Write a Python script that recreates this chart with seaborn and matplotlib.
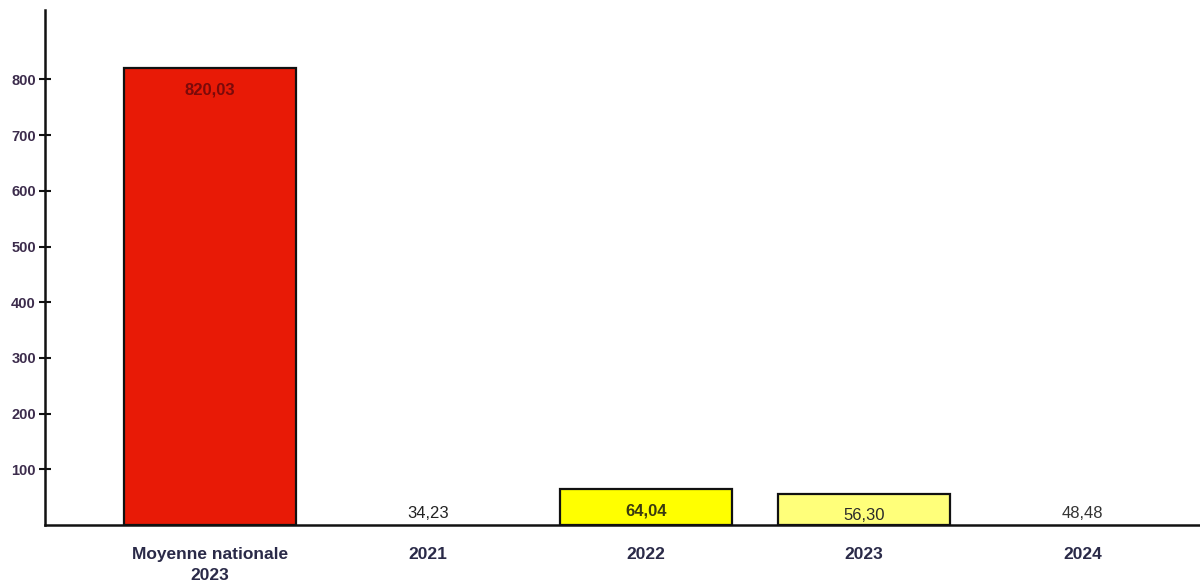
import matplotlib
matplotlib.use("Agg")
import matplotlib.pyplot as plt
import seaborn as sns
import pandas as pd

categories = ["Moyenne nationale\n2023", "2021", "2022", "2023", "2024"]
values = [820.03, 34.23, 64.04, 56.30, 48.48]
value_labels = ["820,03", "34,23", "64,04", "56,30", "48,48"]
fill_colors = ["#E81A06", "#FFFFFF", "#FFFF00", "#FFFF7A", "#FFFFFF"]
edge_visible = [True, False, True, True, False]
label_colors = ["#7A0A0A", "#222222", "#3A3A10", "#2A2A2A", "#333333"]
label_offsets = [-10, 0, -10, -10, -6]
yticks = [100, 200, 300, 400, 500, 600, 700, 800]

sns.set_style("white")
plt.rcParams['font.family'] = ['Liberation Sans', 'DejaVu Sans']

df = pd.DataFrame({"cat": categories, "val": values})

fig = plt.figure(figsize=(12, 5.82), dpi=100)
ax = fig.add_axes([0.0375, 0.098, 0.9625, 0.885])

sns.barplot(data=df, x="cat", y="val", hue="cat", palette=dict(zip(categories, fill_colors)),
            legend=False, width=0.79, ax=ax, saturation=1)

for patch, ev in zip(ax.patches, edge_visible):
    if ev:
        patch.set_edgecolor("#111111")
        patch.set_linewidth(1.6)
    else:
        patch.set_edgecolor("none")
        patch.set_linewidth(0)

for i, (v, lab, col, off) in enumerate(zip(values, value_labels, label_colors, label_offsets)):
    ax.annotate(lab, xy=(i, v), xytext=(0, off), textcoords="offset points",
                ha="center", va="top", fontsize=12, color=col,
                fontweight="bold" if i in (0, 2) else "normal")

ax.set_xlim(-0.757, 4.54)
ax.set_ylim(0, 925)
ax.set_yticks(yticks)
ax.set_yticklabels([str(t) for t in yticks], fontsize=10.5, color="#3C2C4C", fontweight="bold")
ax.tick_params(axis="y", direction="inout", length=9, width=1.5, color="#111111", pad=2, left=True)
ax.tick_params(axis="x", length=0, pad=16)
ax.set_xticks(range(len(categories)))
ax.set_xticklabels(categories, fontsize=12.5, color="#2A2A48", linespacing=1.45, fontweight="bold")
ax.set_xlabel("")
ax.set_ylabel("")

for s in ["top", "right"]:
    ax.spines[s].set_visible(False)
for s in ["left", "bottom"]:
    ax.spines[s].set_color("#111111")
    ax.spines[s].set_linewidth(1.8)

fig.savefig("out.png", dpi=100)
